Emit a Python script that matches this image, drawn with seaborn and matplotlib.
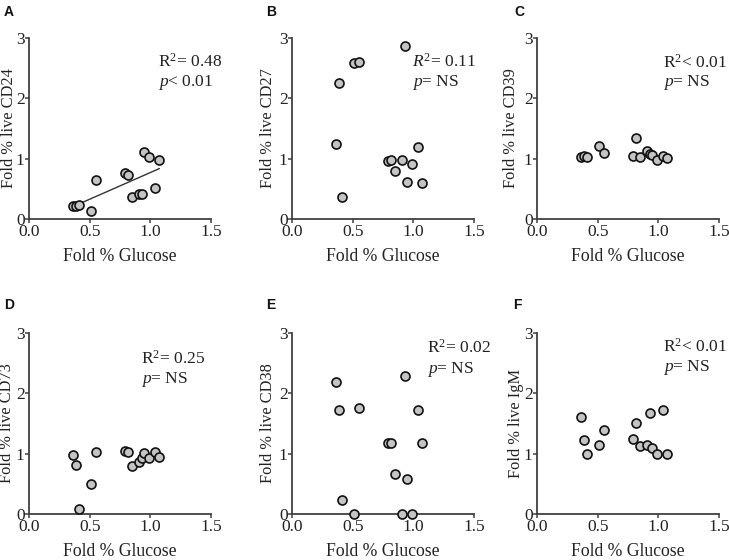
import numpy as np
import pandas as pd
import matplotlib
matplotlib.use("Agg")
import matplotlib.pyplot as plt
import seaborn as sns

# ---- data ----
glucose = [0.365, 0.39, 0.41, 0.51, 0.55, 0.79, 0.82, 0.845, 0.91, 0.93, 0.95, 0.99, 1.04, 1.075]
cd24 = [0.22, 0.21, 0.23, 0.13, 0.64, 0.76, 0.73, 0.37, 0.42, 0.41, 1.11, 1.03, 0.52, 0.97]
cd27 = [1.25, 2.26, 0.36, 2.58, 2.60, 0.96, 0.97, 0.79, 0.98, 2.86, 0.62, 0.91, 1.19, 0.59]
cd39 = [1.03, 1.05, 1.03, 1.21, 1.09, 1.04, 1.34, 1.03, 1.12, 1.08, 1.06, 0.97, 1.05, 1.01]
cd73 = [0.97, 0.82, 0.08, 0.49, 1.02, 1.05, 1.02, 0.79, 0.87, 0.93, 1.01, 0.92, 1.02, 0.94]
cd38 = [2.19, 1.72, 0.24, 0.00, 1.76, 1.18, 1.18, 0.66, 0.00, 2.29, 0.58, 0.00, 1.72, 1.18]
igm = [1.60, 1.22, 0.99, 1.14, 1.39, 1.25, 1.51, 1.12, 1.14, 1.68, 1.10, 1.00, 1.73, 1.00]

panel_letters = ["A", "B", "C", "D", "E", "F"]
ylabels = ["Fold % live CD24", "Fold % live CD27", "Fold % live CD39",
           "Fold % live CD73", "Fold % live CD38", "Fold % live IgM"]
r2_texts = [r"$\mathregular{R^2}$= 0.48", r"$\mathit{R}^{\mathregular{2}}$= 0.11",
            r"$\mathregular{R^2}$< 0.01", r"$\mathregular{R^2}$= 0.25",
            r"$\mathregular{R^2}$= 0.02", r"$\mathregular{R^2}$< 0.01"]
p_texts = [r"$\mathit{p}$< 0.01", r"$\mathit{p}$= NS", r"$\mathit{p}$= NS",
           r"$\mathit{p}$= NS", r"$\mathit{p}$= NS", r"$\mathit{p}$= NS"]
series = [cd24, cd27, cd39, cd73, cd38, igm]
xticks = [0.0, 0.5, 1.0, 1.5]
xticklabels = ["0.0", "0.5", "1.0", "1.5"]
yticks = [0, 1, 2, 3]
yticklabels = ["0", "1", "2", "3"]

sns.set_style("ticks")
plt.rcParams["font.family"] = ["Liberation Serif", "DejaVu Serif"]
plt.rcParams["mathtext.fontset"] = "custom"
plt.rcParams["mathtext.rm"] = "Liberation Serif"
plt.rcParams["mathtext.it"] = "Liberation Serif:italic"

fig = plt.figure(figsize=(7.29, 5.6), dpi=100)

W, H = 729, 560
lefts = [29, 292, 537]
tops = [38, 333]
aw, ah = 182, 181

# text positions (data coords)
txt_pos = [(1.06, 2.60, 2.27), (0.99, 2.60, 2.27), (1.035, 2.59, 2.26),
           (0.92, 2.58, 2.23), (1.11, 2.75, 2.40), (1.035, 2.78, 2.43)]
letter_px = [(4, 12), (266, 12), (514, 12), (4, 305), (266, 305), (513, 305)]
ylabel_x = [-0.068, -0.09, -0.098, -0.078, -0.088, -0.072]

grey = "#404040"
for i in range(6):
    r, c = divmod(i, 3)
    left = lefts[c] / W
    bottom = 1 - (tops[r] + ah) / H
    ax = fig.add_axes([left, bottom, aw / W, ah / H])
    df = pd.DataFrame({"glucose": glucose, "val": series[i]})
    if i == 0:
        sns.regplot(data=df, x="glucose", y="val", scatter=False, ci=None,
                    truncate=True, ax=ax, line_kws=dict(color="#333333", lw=1.0))
    sns.scatterplot(data=df, x="glucose", y="val", ax=ax, s=42,
                    color="#c4c4c4", edgecolor="#111111", linewidth=1.2,
                    clip_on=False, zorder=5)
    ax.set_xlim(0, 1.5)
    ax.set_ylim(0, 3)
    ax.set_xticks(xticks)
    ax.set_xticklabels(xticklabels)
    ax.set_yticks(yticks)
    ax.set_yticklabels(yticklabels)
    sns.despine(ax=ax)
    for s in ["left", "bottom"]:
        ax.spines[s].set_color(grey)
        ax.spines[s].set_linewidth(1.3)
    ax.tick_params(axis="both", length=3, width=1.1, color=grey,
                   labelcolor="#222222")
    ax.tick_params(axis="x", pad=0.5, labelsize=12.5)
    ax.tick_params(axis="y", pad=0.2, labelsize=12.5)
    ax.set_xlabel("Fold % Glucose", fontsize=12.7, color="#222222", labelpad=6)
    ax.set_ylabel(ylabels[i], fontsize=11.8, color="#222222")
    ax.yaxis.set_label_coords(ylabel_x[i], 0.5)
    tx, ty1, ty2 = txt_pos[i]
    ax.text(tx, ty1, r2_texts[i], fontsize=12.5, va="center", ha="left",
            color="#222222", clip_on=False)
    ax.text(tx, ty2, p_texts[i], fontsize=12.5, va="center", ha="left",
            color="#222222", clip_on=False)
    lx, ly = letter_px[i]
    fig.text(lx / W, 1 - ly / H, panel_letters[i], fontsize=10, fontweight="bold",
             family="Liberation Sans", va="center", ha="left", color="#111111")

fig.savefig("out.png", dpi=100)
